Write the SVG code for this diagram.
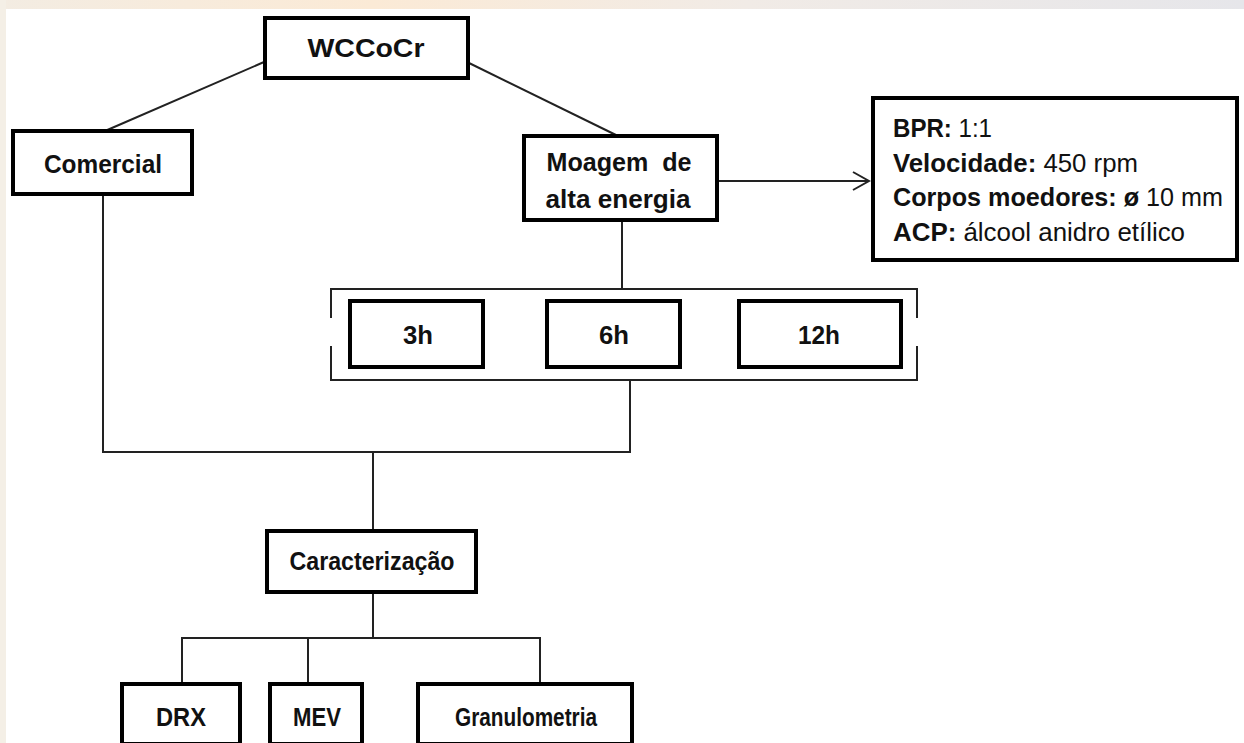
<svg xmlns="http://www.w3.org/2000/svg" width="1244" height="743" viewBox="0 0 1244 743">
<defs>
<linearGradient id="topg" x1="0" y1="0" x2="1" y2="0">
<stop offset="0" stop-color="#f3ece2"/>
<stop offset="0.3" stop-color="#fbead6"/>
<stop offset="0.6" stop-color="#f1ebe6"/>
<stop offset="1" stop-color="#e6e6ea"/>
</linearGradient>
<marker id="arr" viewBox="0 0 20 20" refX="18" refY="10" markerWidth="20" markerHeight="20" markerUnits="userSpaceOnUse" orient="auto">
<path d="M2,1 L18,10 L2,19" fill="none" stroke="#222" stroke-width="2"/>
</marker>
</defs>
<style>
.box{fill:#fff;stroke:#000;stroke-width:4}
.con{fill:none;stroke:#222;stroke-width:2}
.t{font-family:"Liberation Sans",Arial,sans-serif;font-weight:bold;font-size:25px;fill:#111;text-anchor:middle}
.tl{font-family:"Liberation Sans",Arial,sans-serif;font-weight:bold;font-size:25px;fill:#111}
.n{font-weight:normal}
</style>
<rect x="0" y="0" width="1244" height="743" fill="#fff"/>
<rect x="0" y="0" width="1244" height="9" fill="url(#topg)"/>
<rect x="0" y="0" width="6" height="743" fill="#f4efe6"/>
<g id="connectors">
<line class="con" x1="264" y1="62" x2="105" y2="131"/>
<line class="con" x1="467" y1="62" x2="618" y2="136"/>
<line class="con" x1="718" y1="181" x2="869" y2="181" marker-end="url(#arr)"/>
<line class="con" x1="622" y1="221" x2="622" y2="289"/>
<polyline class="con" points="103,195 103,452 630,452 630,381"/>
<line class="con" x1="373" y1="452" x2="373" y2="530"/>
<line class="con" x1="373" y1="593" x2="373" y2="638"/>
<polyline class="con" points="182,683 182,638 540,638 540,683"/>
<line class="con" x1="308" y1="638" x2="308" y2="683"/>
<polyline class="con" points="331,318 331,289 917,289 917,318"/>
<polyline class="con" points="331,346 331,380 917,380 917,346"/>
</g>
<g id="node-wccocr">
<rect class="box" x="265" y="18" width="203" height="60"/>
<text class="t" x="366" y="57" textLength="117" lengthAdjust="spacingAndGlyphs">WCCoCr</text>
</g>
<g id="node-comercial">
<rect class="box" x="13" y="131" width="179" height="63"/>
<text class="t" x="103" y="173" textLength="118" lengthAdjust="spacingAndGlyphs">Comercial</text>
</g>
<g id="node-moagem">
<rect class="box" x="524" y="136" width="193" height="84"/>
<text class="t" x="619" y="171" textLength="145" lengthAdjust="spacingAndGlyphs" xml:space="preserve">Moagem  de</text>
<text class="t" x="618" y="208" textLength="145" lengthAdjust="spacingAndGlyphs">alta energia</text>
</g>
<g id="node-params">
<rect class="box" x="873" y="98" width="364" height="162"/>
<text class="tl" x="893" y="137" textLength="99" lengthAdjust="spacingAndGlyphs">BPR:<tspan class="n"> 1:1</tspan></text>
<text class="tl" x="893" y="172" textLength="245" lengthAdjust="spacingAndGlyphs">Velocidade:<tspan class="n"> 450 rpm</tspan></text>
<text class="tl" x="893" y="206" textLength="330" lengthAdjust="spacingAndGlyphs">Corpos moedores: ø <tspan class="n">10 mm</tspan></text>
<text class="tl" x="893" y="241" textLength="292" lengthAdjust="spacingAndGlyphs">ACP:<tspan class="n"> álcool anidro etílico</tspan></text>
</g>
<g id="node-3h">
<rect class="box" x="350" y="301" width="133" height="66"/>
<text class="t" x="418" y="344" textLength="30" lengthAdjust="spacingAndGlyphs">3h</text>
</g>
<g id="node-6h">
<rect class="box" x="547" y="301" width="133" height="66"/>
<text class="t" x="614" y="344" textLength="30" lengthAdjust="spacingAndGlyphs">6h</text>
</g>
<g id="node-12h">
<rect class="box" x="739" y="301" width="162" height="66"/>
<text class="t" x="819" y="344" textLength="42" lengthAdjust="spacingAndGlyphs">12h</text>
</g>
<g id="node-caracterizacao">
<rect class="box" x="267" y="531" width="209" height="61"/>
<text class="t" x="372" y="570" textLength="165" lengthAdjust="spacingAndGlyphs">Caracterização</text>
</g>
<g id="node-drx">
<rect class="box" x="122" y="684" width="118" height="60"/>
<text class="t" x="181" y="726" textLength="50" lengthAdjust="spacingAndGlyphs">DRX</text>
</g>
<g id="node-mev">
<rect class="box" x="270" y="684" width="92" height="60"/>
<text class="t" x="317" y="726" textLength="48" lengthAdjust="spacingAndGlyphs">MEV</text>
</g>
<g id="node-granulometria">
<rect class="box" x="418" y="684" width="214" height="60"/>
<text class="t" x="526" y="726" textLength="142" lengthAdjust="spacingAndGlyphs">Granulometria</text>
</g>
</svg>
